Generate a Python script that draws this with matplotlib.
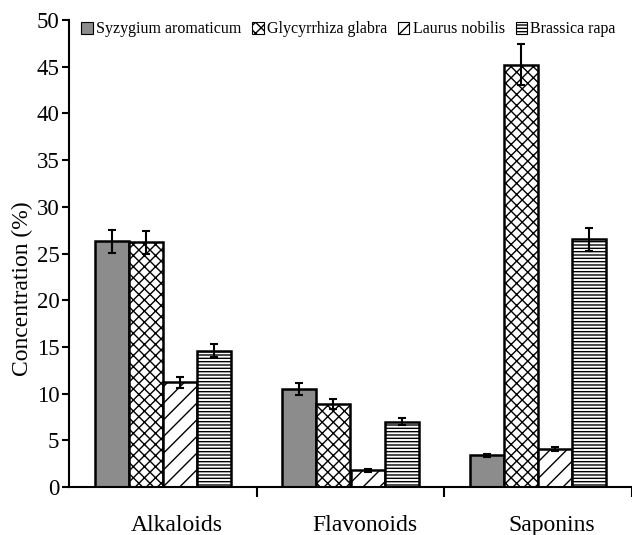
import numpy as np
import matplotlib.pyplot as plt
import matplotlib.transforms as mtransforms
from matplotlib.patches import Patch

plt.rcParams['font.family'] = ['Liberation Serif', 'DejaVu Serif']
plt.rcParams['hatch.linewidth'] = 1.0

# -------------------------------------------------------
# Data
# -------------------------------------------------------
categories = ["Alkaloids", "Flavonoids", "Saponins"]
species = ["Syzygium aromaticum", "Glycyrrhiza glabra", "Laurus nobilis", "Brassica rapa"]

syzygium = [26.3, 10.5, 3.4]
glycyrrhiza = [26.2, 8.9, 45.2]
laurus = [11.2, 1.8, 4.1]
brassica = [14.6, 7.0, 26.5]

syzygium_err = [1.2, 0.6, 0.15]
glycyrrhiza_err = [1.2, 0.5, 2.2]
laurus_err = [0.6, 0.15, 0.2]
brassica_err = [0.7, 0.35, 1.2]

values = [syzygium, glycyrrhiza, laurus, brassica]
errors = [syzygium_err, glycyrrhiza_err, laurus_err, brassica_err]
fills = ["#8c8c8c", "white", "white", "white"]
hatches = ["", "xxx", "//", "-----"]

# -------------------------------------------------------
# Plot
# -------------------------------------------------------
fig = plt.figure(figsize=(6.32, 5.35), dpi=100)
ax = fig.add_axes([69 / 632, 48 / 535, 563 / 632, 467 / 535])

x = np.arange(len(categories))
width = 0.182
for i, (vals, errs) in enumerate(zip(values, errors)):
    pos = x + (i - 1.5) * width
    ax.bar(pos, vals, width, color=fills[i], edgecolor="black",
           linewidth=1.8, hatch=hatches[i], zorder=2)
    ax.errorbar(pos, vals, yerr=errs, fmt="none", ecolor="black",
                elinewidth=1.5, capsize=3, capthick=1.5, zorder=3)

ax.set_xlim(-0.5, 2.5)
ax.set_ylim(0, 50)
ax.set_yticks(np.arange(0, 51, 5))
ax.set_xticks(x)
ax.set_xticklabels(categories, fontsize=17)
ax.set_xticks([0.5, 1.5, 2.5], minor=True)
ax.tick_params(axis="x", which="major", length=0, pad=20)
ax.tick_params(axis="x", which="minor", length=7, width=1.5, direction="out")
ax.tick_params(axis="y", labelsize=16.5, length=5, width=1.5, direction="out", pad=2)
ax.set_ylabel("Concentration (%)", fontsize=17)
ax.yaxis.set_label_coords(-0.064, 0.425)

# category labels sit a little right of the group centres
shift = mtransforms.ScaledTranslation(14 / 100, 0, fig.dpi_scale_trans)
for lbl in ax.get_xticklabels():
    lbl.set_transform(lbl.get_transform() + shift)

for s in ["top", "right"]:
    ax.spines[s].set_visible(False)
for s in ["left", "bottom"]:
    ax.spines[s].set_linewidth(1.5)

handles = [Patch(facecolor=fills[i], edgecolor="black", hatch=hatches[i], linewidth=0.8)
           for i in range(4)]
ax.legend(handles, species, ncol=4, loc="upper left", bbox_to_anchor=(0.005, 1.018),
          frameon=False, fontsize=11.5, handlelength=0.7, handleheight=0.8,
          handletextpad=0.2, columnspacing=0.7, borderaxespad=0.2)

plt.savefig("out.png", dpi=100)
